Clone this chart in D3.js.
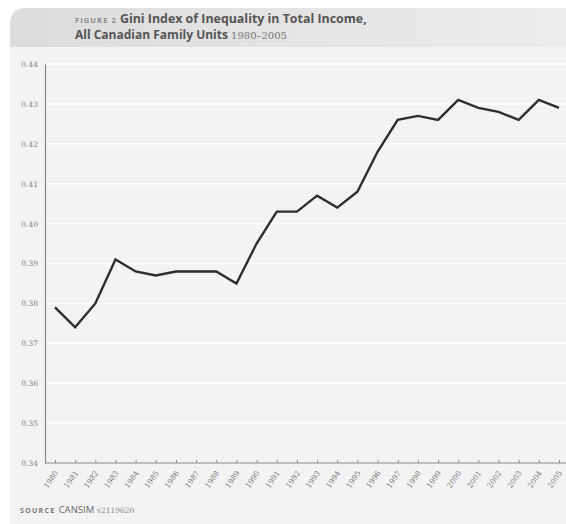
<!DOCTYPE html>
<html>
<head>
<meta charset="utf-8">
<script src="https://cdn.jsdelivr.net/npm/d3@7"></script>
<style>
  body { margin: 0; background: #ffffff; }
  svg { display: block; }
</style>
</head>
<body>
<div id="chart"></div>
<script>
// years and Gini values
var years = [1980, 1981, 1982, 1983, 1984, 1985, 1986, 1987, 1988, 1989, 1990, 1991, 1992,
             1993, 1994, 1995, 1996, 1997, 1998, 1999, 2000, 2001, 2002, 2003, 2004, 2005];
var gini = [0.379, 0.374, 0.380, 0.391, 0.388, 0.387, 0.388, 0.388, 0.388, 0.385, 0.395, 0.403, 0.403,
            0.407, 0.404, 0.408, 0.418, 0.426, 0.427, 0.426, 0.431, 0.429, 0.428, 0.426, 0.431, 0.429];
var yTicks = [0.34, 0.35, 0.36, 0.37, 0.38, 0.39, 0.40, 0.41, 0.42, 0.43, 0.44];

var W = 566, H = 524;
var svg = d3.select("#chart").append("svg")
    .attr("width", W)
    .attr("height", H);

// background panels
var defs = svg.append("defs");
var grad = defs.append("linearGradient").attr("id", "band");
grad.append("stop").attr("offset", "0%").attr("stop-color", "#dcdcdc");
grad.append("stop").attr("offset", "100%").attr("stop-color", "#ececec");

svg.append("rect")
    .attr("x", 10).attr("y", 47)
    .attr("width", W - 10).attr("height", H - 47)
    .attr("fill", "#f3f3f3");

svg.append("path")
    .attr("d", "M10,47 L10,24 Q10,8 26,8 L" + W + ",8 L" + W + ",47 Z")
    .attr("fill", "url(#band)");

// title
var title = svg.append("text")
    .attr("x", 75).attr("y", 23)
    .style("font-family", "'Open Sans', sans-serif")
    .style("font-size", "12.4px");
title.append("tspan")
    .attr("fill", "#8a8a8a")
    .style("font-size", "7.5px")
    .style("letter-spacing", "1.1px")
    .style("font-weight", "bold")
    .text("FIGURE 2  ");
title.append("tspan")
    .attr("fill", "#555")
    .style("font-weight", "bold")
    .text("Gini Index of Inequality in Total Income,");

var title2 = svg.append("text")
    .attr("x", 75).attr("y", 39)
    .style("font-family", "'Open Sans', sans-serif")
    .style("font-size", "12px");
title2.append("tspan")
    .attr("fill", "#555")
    .style("font-weight", "bold")
    .text("All Canadian Family Units  ");
title2.append("tspan")
    .attr("fill", "#777")
    .style("font-family", "'DejaVu Serif', serif")
    .style("font-size", "10px")
    .text("1980–2005");

// scales
var x = d3.scaleLinear().domain([1980, 2005]).range([55, 559]);
var y = d3.scaleLinear().domain([0.34, 0.44]).range([463, 64]);

// grid
svg.append("g").selectAll("line")
    .data(yTicks.slice(1))
    .enter().append("line")
    .attr("x1", 46).attr("x2", W)
    .attr("y1", function(d) { return y(d); })
    .attr("y2", function(d) { return y(d); })
    .attr("stroke", "#ffffff")
    .attr("stroke-width", 1.5);

// y axis
var yAxis = svg.append("g")
    .attr("transform", "translate(45,0)")
    .call(d3.axisLeft(y).tickValues(yTicks).tickSize(0).tickPadding(7)
        .tickFormat(d3.format(".2f")));
yAxis.select(".domain").attr("stroke", "#888").attr("stroke-width", 1.2);
yAxis.selectAll("text")
    .attr("fill", "#7a7a7a")
    .style("font-family", "'DejaVu Serif', serif")
    .style("font-size", "7.5px");

// x axis
var xAxis = svg.append("g")
    .attr("transform", "translate(0,463)")
    .call(d3.axisBottom(x).tickValues(years).tickSize(-3).tickPadding(4)
        .tickFormat(d3.format("d")));
xAxis.select(".domain").attr("d", "M45,0H" + W).attr("stroke", "#888").attr("stroke-width", 1.2);
xAxis.selectAll(".tick line").attr("stroke", "#888");
xAxis.selectAll("text")
    .attr("fill", "#7a7a7a")
    .style("font-family", "'DejaVu Serif', serif")
    .style("font-size", "7.5px")
    .attr("text-anchor", "end")
    .attr("y", 0)
    .attr("dy", 0)
    .attr("transform", "translate(3,10) rotate(-55)");

// line
var line = d3.line()
    .x(function(d, i) { return x(years[i]); })
    .y(function(d) { return y(d); });

svg.append("path")
    .datum(gini)
    .attr("d", line)
    .attr("fill", "none")
    .attr("stroke", "#2e2e2e")
    .attr("stroke-width", 2.4)
    .attr("stroke-linejoin", "miter");

// source
var src = svg.append("text")
    .attr("x", 20).attr("y", 513)
    .style("font-family", "'Open Sans', sans-serif");
src.append("tspan")
    .attr("fill", "#777")
    .style("font-size", "7px")
    .style("font-weight", "bold")
    .style("letter-spacing", "1.3px")
    .text("SOURCE  ");
src.append("tspan")
    .attr("fill", "#666")
    .style("font-size", "9.5px")
    .text("CANSIM ");
src.append("tspan")
    .attr("fill", "#888")
    .style("font-family", "'DejaVu Serif', serif")
    .style("font-size", "7.5px")
    .text("v2119620");
</script>
</body>
</html>
